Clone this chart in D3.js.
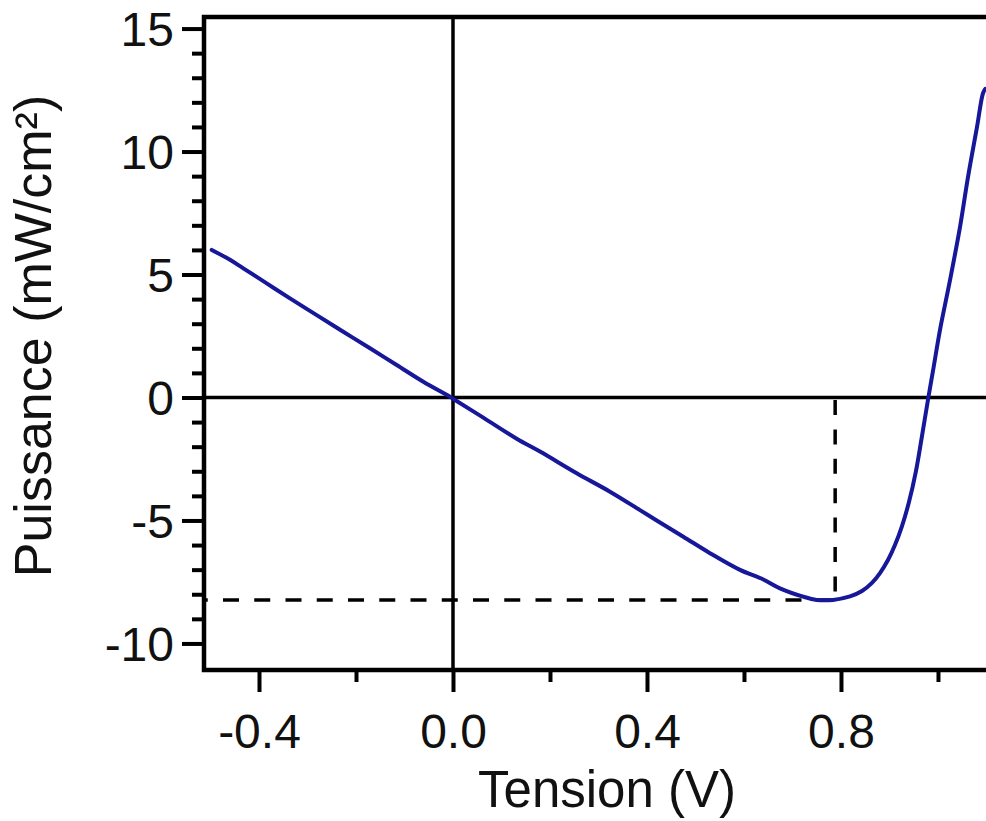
<!DOCTYPE html>
<html>
<head>
<meta charset="utf-8">
<script src="https://cdn.jsdelivr.net/npm/d3@7"></script>
<style>
  html, body { margin: 0; padding: 0; background: #fff; }
  svg { display: block; }
  text { font-family: "Liberation Sans", Arial, Helvetica, sans-serif; fill: #111; }
</style>
</head>
<body>
<svg id="chart" width="986" height="821"></svg>
<script>
// Power density curve P(V) of the cell under illumination
const voltage = [
  -0.4975, -0.4598, -0.4323, -0.3841, -0.3361, -0.2810, -0.2262, -0.1711, -0.1161, -0.0612, -0.0062,
  0.0041, 0.0625, 0.1313, 0.1794, 0.2551, 0.3237, 0.3856, 0.4200, 0.4749, 0.5299, 0.5918, 0.6398,
  0.6742, 0.7223, 0.7499, 0.7835, 0.8186, 0.8433, 0.8639, 0.8804, 0.8969, 0.9113, 0.9258, 0.9402,
  0.9546, 0.9670, 0.9802, 0.9911, 1.0041, 1.0247, 1.0454, 1.0619, 1.0804, 1.0928, 1.0975
];
const power = [
  6.00, 5.60, 5.25, 4.64, 4.03, 3.35, 2.67, 2.00, 1.32, 0.64, 0.03,
  -0.10, -0.82, -1.68, -2.20, -3.08, -3.83, -4.58, -5.00, -5.66, -6.33, -7.01, -7.40,
  -7.76, -8.10, -8.23, -8.23, -8.09, -7.87, -7.54, -7.14, -6.61, -6.00, -5.23, -4.25,
  -2.99, -1.57, 0.00, 1.24, 2.74, 4.76, 6.93, 8.96, 10.99, 12.37, 12.55
];

// Maximum power point
const vMax = 0.788;
const pMax = -8.23;

// Axis ticks
const xMajorTicks = [-0.4, 0.0, 0.4, 0.8];
const xMinorTicks = [-0.2, 0.2, 0.6, 1.0];
const xTickLabels = ["-0.4", "0.0", "0.4", "0.8"];
const yMajorTicks = [-10, -5, 0, 5, 10, 15];
const yMinorTicks = [-9, -8, -7, -6, -4, -3, -2, -1, 1, 2, 3, 4, 6, 7, 8, 9, 11, 12, 13, 14];
const yTickLabels = ["-10", "-5", "0", "5", "10", "15"];

const xTitle = "Tension (V)";
const yTitle = "Puissance (mW/cm²)";

const svg = d3.select("#chart");

const plotLeft = 204, plotRight = 1010, plotTop = 17, plotBottom = 670;
const x = d3.scaleLinear().domain([-0.5134, 1.1485]).range([plotLeft, plotRight]);
const y = d3.scaleLinear().domain([-11.08, 15.47]).range([plotBottom, plotTop]);

const tickFont = 48;

// Zero lines
svg.append("line")
  .attr("x1", x(0)).attr("x2", x(0))
  .attr("y1", plotTop).attr("y2", plotBottom)
  .attr("stroke", "#000").attr("stroke-width", 3.5);
svg.append("line")
  .attr("x1", plotLeft).attr("x2", plotRight)
  .attr("y1", y(0)).attr("y2", y(0))
  .attr("stroke", "#000").attr("stroke-width", 3.5);

// Dashed guides to the maximum power point
svg.append("line")
  .attr("x1", plotLeft).attr("x2", x(vMax))
  .attr("y1", y(pMax)).attr("y2", y(pMax))
  .attr("stroke", "#000").attr("stroke-width", 3.5)
  .attr("stroke-dasharray", "16 15.25")
  .attr("stroke-dashoffset", 12.25);
svg.append("line")
  .attr("x1", x(vMax)).attr("x2", x(vMax))
  .attr("y1", y(0)).attr("y2", y(pMax))
  .attr("stroke", "#000").attr("stroke-width", 3.5)
  .attr("stroke-dasharray", "15 14.4")
  .attr("stroke-dashoffset", -2.5);

// Curve
const pts = voltage.map((v, i) => [v, power[i]]);
svg.append("path")
  .datum(pts)
  .attr("fill", "none")
  .attr("stroke", "#17179a")
  .attr("stroke-width", 4)
  .attr("stroke-linejoin", "round")
  .attr("stroke-linecap", "round")
  .attr("d", d3.line().x(d => x(d[0])).y(d => y(d[1])).curve(d3.curveCatmullRom.alpha(0.5)));

// Axes (ticks outward)
const xAxisMajor = d3.axisBottom(x).tickValues(xMajorTicks)
  .tickSize(22).tickPadding(22)
  .tickFormat((d, i) => xTickLabels[i]);
const xAxisMinor = d3.axisBottom(x).tickValues(xMinorTicks).tickSize(12).tickFormat("");
const yAxisMajor = d3.axisLeft(y).tickValues(yMajorTicks)
  .tickSize(22).tickPadding(8)
  .tickFormat((d, i) => yTickLabels[i]);
const yAxisMinor = d3.axisLeft(y).tickValues(yMinorTicks).tickSize(12).tickFormat("");

function styleAxis(g) {
  g.select(".domain").remove();
  g.selectAll(".tick line").attr("stroke", "#000").attr("stroke-width", 4);
  g.selectAll(".tick text").attr("font-size", tickFont).attr("fill", "#111")
    .style("font-family", '"Liberation Sans", Arial, sans-serif');
}

svg.append("g").attr("transform", `translate(0,${plotBottom})`).call(xAxisMinor).call(styleAxis);
svg.append("g").attr("transform", `translate(0,${plotBottom})`).call(xAxisMajor).call(styleAxis);
svg.append("g").attr("transform", `translate(${plotLeft},0)`).call(yAxisMinor).call(styleAxis);
svg.append("g").attr("transform", `translate(${plotLeft},0)`).call(yAxisMajor).call(styleAxis)
  .selectAll(".tick text").attr("dy", "0.36em");

// Frame
svg.append("rect")
  .attr("x", plotLeft).attr("y", plotTop)
  .attr("width", plotRight - plotLeft).attr("height", plotBottom - plotTop)
  .attr("fill", "none").attr("stroke", "#000").attr("stroke-width", 4.5);

// Axis titles
svg.append("text")
  .attr("x", (plotLeft + plotRight) / 2).attr("y", 807)
  .attr("text-anchor", "middle")
  .attr("font-size", 51)
  .text(xTitle);
svg.append("text")
  .attr("transform", "translate(51,336) rotate(-90)")
  .attr("text-anchor", "middle")
  .attr("font-size", 52)
  .text(yTitle);
</script>
</body>
</html>
